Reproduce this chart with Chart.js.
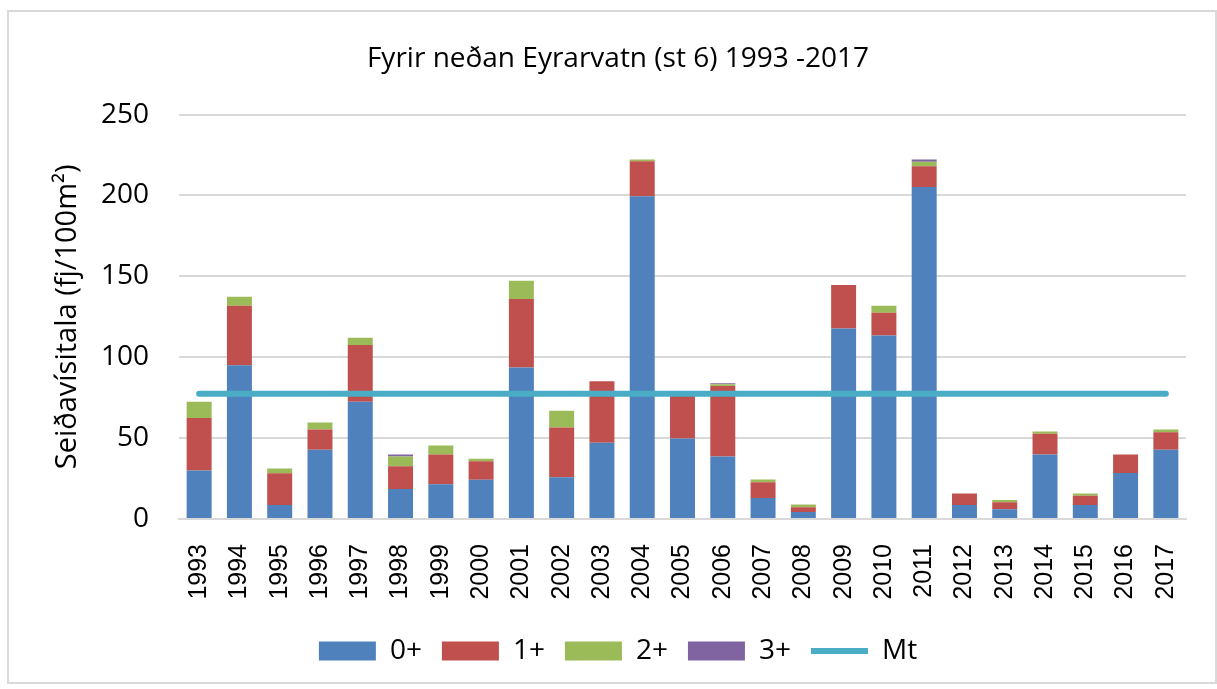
<!DOCTYPE html>
<html>
<head>
<meta charset="utf-8">
<script src="https://cdn.jsdelivr.net/npm/chart.js@4"></script>
<style>
  html, body { margin: 0; padding: 0; background: #fff; }
  #frame { position: absolute; left: 7px; top: 10px; width: 1206px; height: 670px; border: 2px solid #d9d9d9; }
  #wrap { position: absolute; left: 0; top: 0; width: 1217px; height: 689px; }
</style>
</head>
<body>
<div id="frame"></div>
<div id="wrap"><canvas id="myChart" width="1217" height="689"></canvas></div>
<script>
// ár
const years = ['1993','1994','1995','1996','1997','1998','1999','2000','2001','2002','2003','2004','2005',
  '2006','2007','2008','2009','2010','2011','2012','2013','2014','2015','2016','2017'];

// seiðavísitala eftir aldri (fj/100m2)
const age0 = [30.0, 95.0, 8.7, 42.8, 72.5, 18.6, 21.5, 24.2, 93.6, 25.8, 47.1, 199.6, 49.8,
  38.6, 13.0, 4.3, 117.8, 113.4, 205.2, 8.7, 6.0, 39.9, 8.7, 28.5, 42.8];
const age1 = [32.4, 36.8, 19.6, 12.6, 35.1, 14.0, 18.4, 11.5, 42.4, 30.8, 38.0, 21.5, 27.2,
  43.6, 9.7, 2.9, 26.8, 14.1, 12.8, 7.0, 4.3, 12.8, 5.6, 11.4, 10.9];
const age2 = [10.1, 5.6, 2.9, 4.3, 4.4, 6.0, 5.6, 1.5, 11.3, 10.3, 0, 1.2, 0,
  1.1, 1.7, 1.7, 0, 4.3, 2.9, 0, 1.5, 1.4, 1.4, 0, 1.7];
const age3 = [0, 0, 0, 0, 0, 1.3, 0, 0, 0, 0, 0, 0, 0,
  0.6, 0, 0, 0, 0, 1.4, 0, 0, 0, 0, 0, 0];
// meðaltal
const mt = 77.5;

const calibri = "'Open Sans', sans-serif";
const ctx = document.getElementById('myChart');

new Chart(ctx, {
  type: 'bar',
  data: {
    labels: years,
    datasets: [
      { label: '0+', data: age0, backgroundColor: '#4f81bd', stack: 'a', order: 1 },
      { label: '1+', data: age1, backgroundColor: '#c0504d', stack: 'a', order: 1 },
      { label: '2+', data: age2, backgroundColor: '#9bbb59', stack: 'a', order: 1 },
      { label: '3+', data: age3, backgroundColor: '#8064a2', stack: 'a', order: 1 },
      {
        label: 'Mt', type: 'line', data: years.map(() => mt), stack: 'mt', order: 0,
        borderColor: '#4bacc6', backgroundColor: '#4bacc6', borderWidth: 6,
        borderCapStyle: 'round', pointRadius: 0, pointHoverRadius: 0
      }
    ]
  },
  options: {
    responsive: false,
    animation: false,
    barPercentage: 0.62,
    categoryPercentage: 1,
    layout: { padding: { left: 50, right: 31, top: 0, bottom: 14 } },
    scales: {
      x: {
        stacked: true,
        grid: { display: false },
        border: { color: '#d9d9d9', width: 2 },
        ticks: {
          color: '#000', minRotation: 90, maxRotation: 90, padding: 17,
          font: { family: "'Liberation Sans', Arial, sans-serif", size: 25 }
        },
        afterFit: function(scale) { scale.height = 98; }
      },
      y: {
        stacked: true,
        min: 0, max: 250,
        ticks: { stepSize: 50, color: '#000', padding: 30, font: { family: calibri, size: 28 } },
        grid: { color: '#d9d9d9', lineWidth: 2, drawTicks: false },
        border: { display: false },
        title: {
          display: true, text: 'Seiðavísitala (fj/100m²)', color: '#000',
          font: { family: calibri, size: 29 }, padding: { top: 0, bottom: 0 }
        },
        afterFit: function(scale) { scale.width = 129; }
      }
    },
    plugins: {
      title: {
        display: true, text: 'Fyrir neðan Eyrarvatn (st 6) 1993 -2017', color: '#000',
        font: { family: calibri, size: 28, weight: 'normal' }, padding: { top: 42, bottom: 39 }
      },
      legend: {
        position: 'bottom',
        labels: {
          color: '#000', usePointStyle: true, pointStyleWidth: 57, boxHeight: 19,
          padding: 20, font: { family: calibri, size: 28 },
          sort: (a, b) => a.datasetIndex - b.datasetIndex,
          generateLabels: function(chart) {
            const items = Chart.defaults.plugins.legend.labels.generateLabels(chart);
            items.forEach(function(it) {
              it.pointStyle = it.text === 'Mt' ? 'line' : 'rect';
              if (it.text !== 'Mt') it.lineWidth = 0;
            });
            return items;
          }
        }
      },
      tooltip: { enabled: false }
    }
  }
});
</script>
</body>
</html>
